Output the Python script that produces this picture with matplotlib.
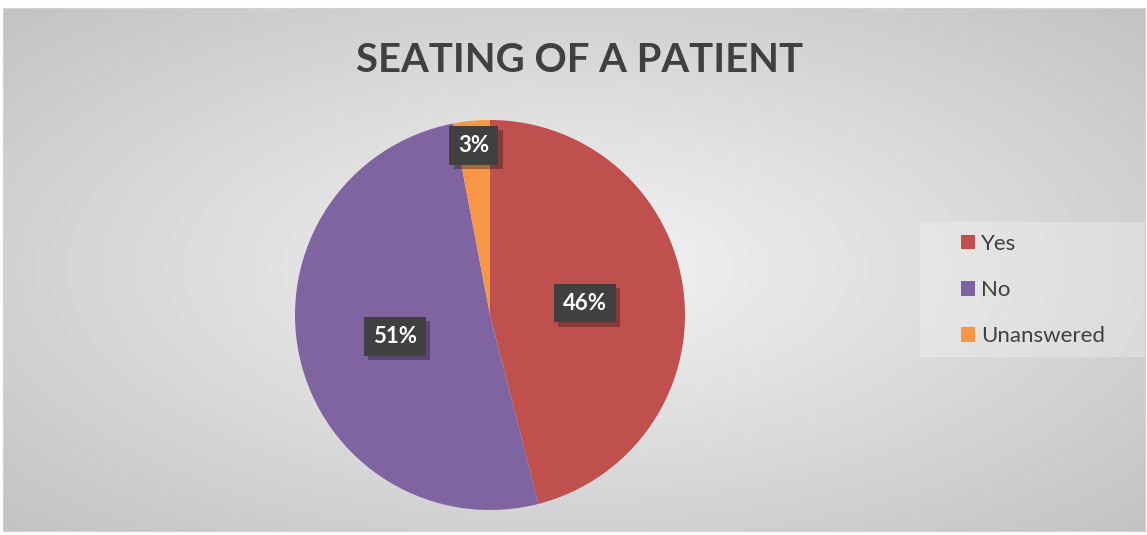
import numpy as np
import matplotlib.pyplot as plt
from matplotlib import patheffects as pe
from matplotlib.patches import Rectangle

labels = ["Yes", "No", "Unanswered"]
shares = [46, 51, 3]
colors = ["#C0504D", "#8064A2", "#F79646"]
title = "SEATING OF A PATIENT"

W, H = 1147, 535
fig = plt.figure(figsize=(W / 100, H / 100), dpi=100)
fig.patch.set_facecolor("white")
plt.rcParams['font.family'] = ['Lato', 'DejaVu Sans']

# chart area with radial grey gradient
bx0, by0, bx1, by1 = 3, 8, 1145, 531
bg = fig.add_axes([bx0 / W, 1 - by1 / H, (bx1 - bx0) / W, (by1 - by0) / H])
yy, xx = np.mgrid[0:200, 0:400]
r = np.sqrt(((xx - 200) / 200) ** 2 + ((yy - 100) / 100) ** 2) / np.sqrt(2)
shade = 0.955 - 0.19 * r
bg.imshow(np.dstack([shade] * 3), aspect="auto", extent=[0, 1, 0, 1], origin="lower")
bg.set_xlim(0, 1)
bg.set_ylim(0, 1)
bg.set_xticks([])
bg.set_yticks([])
for s in bg.spines.values():
    s.set_color("#D0D0D0")
    s.set_linewidth(0.8)

# lighter legend panel
fig.patches.append(Rectangle((920 / W, 1 - 357 / H), (1145 - 920) / W, 135 / H,
                             transform=fig.transFigure, facecolor="white",
                             alpha=0.25, edgecolor="none", zorder=1))

# pie
cx, cy, rad = 490, 315, 195
ax = fig.add_axes([(cx - rad) / W, 1 - (cy + rad) / H, 2 * rad / W, 2 * rad / H])
wedges, _ = ax.pie(shares, colors=colors, startangle=90, counterclock=False,
                   wedgeprops=dict(linewidth=0))
ax.set_xlim(-1, 1)
ax.set_ylim(-1, 1)
ax.set_aspect("auto")

dists = [0.49, 0.5, 0.875]
for w, v, d in zip(wedges, shares, dists):
    ang = np.deg2rad((w.theta1 + w.theta2) / 2)
    t = ax.text(d * np.cos(ang), d * np.sin(ang), f"{v}%", ha="center", va="center",
                color="white", fontsize=16, fontweight="bold",
                bbox=dict(boxstyle="square,pad=0.4", facecolor="#404040", edgecolor="none"))
    t.get_bbox_patch().set_path_effects([pe.SimplePatchShadow(offset=(3, -3), alpha=0.35),
                                         pe.Normal()])

fig.text(580 / W, 1 - 60 / H, title, ha="center", va="center", fontsize=28.8,
         fontweight="bold", color="#404040")

leg = fig.legend(wedges, labels, loc="upper left",
                 bbox_to_anchor=(961 / W, 1 - 234 / H), fontsize=16,
                 frameon=False, handlelength=0.62, handleheight=0.62,
                 handletextpad=0.3, labelspacing=1.18, borderpad=0,
                 borderaxespad=0)
for txt in leg.get_texts():
    txt.set_color("#404040")

fig.savefig("out.png", dpi=100)
